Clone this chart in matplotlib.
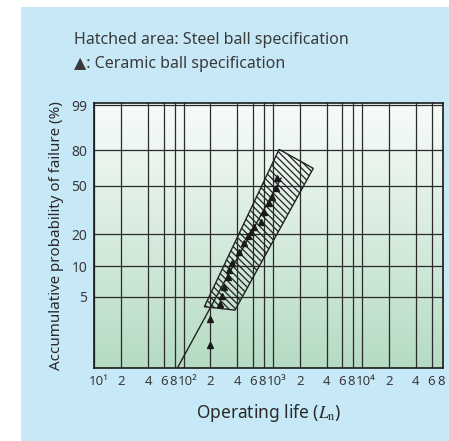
import numpy as np
import matplotlib
matplotlib.use("Agg")
import matplotlib.pyplot as plt
from matplotlib.patches import Rectangle, Polygon
from matplotlib.transforms import ScaledTranslation

plt.rcParams['font.family'] = ['Noto Sans', 'DejaVu Sans']
plt.rcParams['mathtext.fontset'] = 'stix'
plt.rcParams['hatch.linewidth'] = 0.9
plt.rcParams['hatch.color'] = '#222222'

# operating life vs accumulated failure probability (%)
# ceramic ball spec points (triangles)
life_ceramic = [200, 200, 258, 267, 286, 312, 326, 345, 421, 479, 521, 569,
                619, 735, 800, 910, 990, 1080, 1125]
prob_ceramic = [1.65, 3.0, 4.3, 5.1, 6.3, 7.9, 9.2, 10.8, 13.8, 16.6, 19.3,
                21.1, 23.4, 25.9, 31.6, 37.1, 41.6, 48.3, 56.6]

# fitted line for ceramic
life_fit = [85, 1240]
prob_fit = [0.96, 56.6]

# steel ball spec band (hatched), corners
life_band = [171, 1175, 2838, 377]
prob_band = [4.0, 80.5, 64.9, 3.7]

xticks = [10, 20, 40, 60, 80, 100, 200, 400, 600, 800, 1000, 2000, 4000,
          6000, 8000, 10000, 20000, 40000, 60000, 80000]
xticklabels = ['10¹', '2', '4', '6', '8', '10²', '2', '4', '6', '8', '10³',
               '2', '4', '6', '8', '10⁴', '2', '4', '6', '8']
yticks = [5, 10, 20, 50, 80, 99]


def fwd(p):
    p = np.clip(np.asarray(p, dtype=float), 1e-6, 99.99999)
    return np.log(-np.log(1 - p / 100.0))


def inv(w):
    return 100.0 * (1 - np.exp(-np.exp(w)))


fig = plt.figure(figsize=(4.49, 4.41), dpi=100)
fig.patch.set_facecolor('white')
fig.patches.append(Rectangle((21 / 449, 0), 1, (441 - 7) / 441,
                             transform=fig.transFigure, facecolor='#c7e8f7',
                             edgecolor='none', zorder=-5))

pos = [0.210, 0.165, 0.776, 0.601]

# gradient background
bg = fig.add_axes(pos, zorder=0)
grad = np.linspace(0, 1, 256).reshape(-1, 1)
top = np.array([0.975, 0.988, 0.980])
bot = np.array([0.710, 0.860, 0.760])
img = top[None, None, :] * (1 - grad[:, :, None]) + bot[None, None, :] * grad[:, :, None]
bg.imshow(img, aspect='auto', extent=[0, 1, 0, 1])
bg.axis('off')

ax = fig.add_axes(pos, zorder=1)
ax.set_facecolor('none')
ax.set_xscale('log')
ax.set_yscale('function', functions=(fwd, inv))
ax.set_xlim(10, 80000)
ax.set_ylim(0.96, 99.2)

ax.add_patch(Polygon(list(zip(life_band, prob_band)), closed=True,
                     facecolor='none', edgecolor='#222222', lw=1.0,
                     hatch='\\\\\\\\\\', zorder=3))
ax.plot(life_fit, prob_fit, color='#222222', lw=1.0, zorder=4)
ax.plot(life_ceramic, prob_ceramic, linestyle='none', marker='^',
        ms=4.5, color='#1a1a1a', zorder=5)

ax.set_xticks(xticks)
ax.set_xticklabels(xticklabels)
ax.xaxis.set_minor_locator(matplotlib.ticker.NullLocator())
ax.set_yticks(yticks)
ax.set_yticklabels([str(v) for v in yticks])
ax.yaxis.set_minor_locator(matplotlib.ticker.NullLocator())
ax.tick_params(length=0, labelsize=10, colors='#3a3a3a', pad=5)
ax.tick_params(axis='x', labelsize=9.5)

# nudge crowded labels apart (8 left, 10^n right)
for lab in ax.get_xticklabels():
    t = lab.get_text()
    if t.startswith('10'):
        dx = 4
    elif t == '8':
        dx = -2
    else:
        dx = 0
    lab.set_transform(lab.get_transform() + ScaledTranslation(dx / 100, 0, fig.dpi_scale_trans))

ax.grid(True, color='#2a2a2a', lw=0.9)
for s in ax.spines.values():
    s.set_color('#1a1a1a')
    s.set_linewidth(1.2)

ax.set_xlabel(r'Operating life ($L_\mathrm{n}$)', fontsize=12.5,
              color='#2a2a2a', labelpad=10)
ax.set_ylabel('Accumulative probability of failure (%)', fontsize=10.9,
              color='#2a2a2a', labelpad=5)

fig.text(74 / 449, 1 - 40 / 441, 'Hatched area: Steel ball specification',
         fontsize=11.5, color='#3a3a3a', va='center', ha='left')
fig.text(74 / 449, 1 - 64 / 441, '▲: Ceramic ball specification',
         fontsize=11.5, color='#3a3a3a', va='center', ha='left')

fig.savefig('out.png', dpi=100)
